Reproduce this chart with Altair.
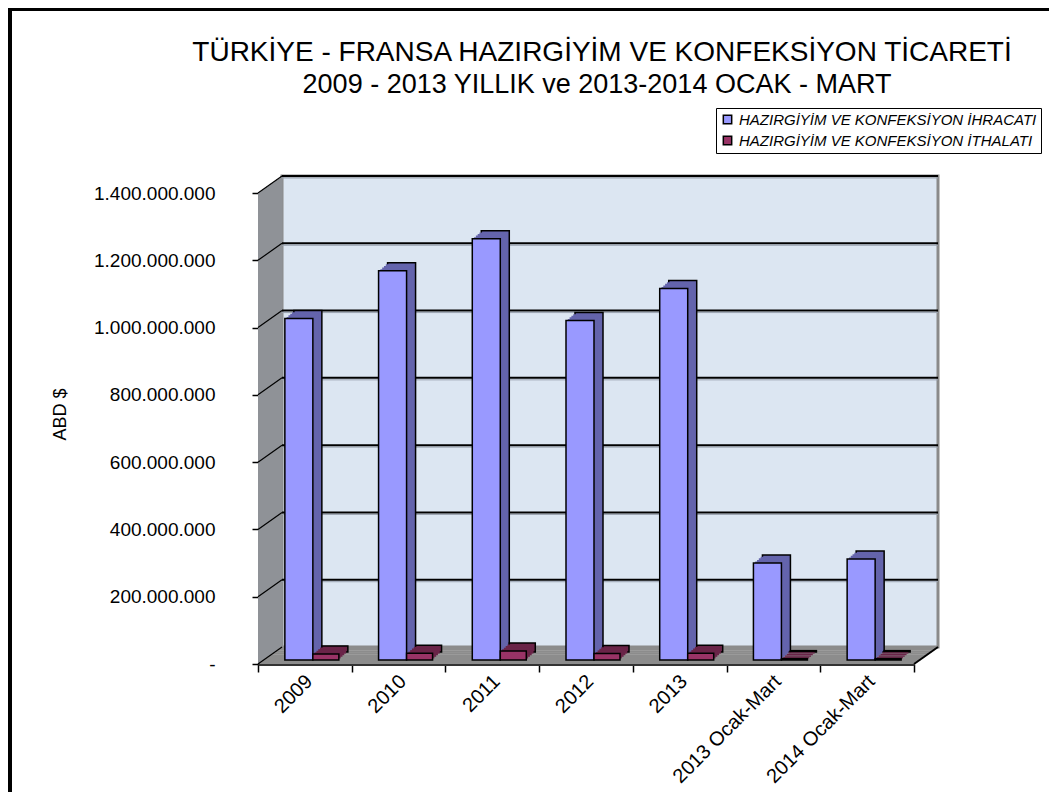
import altair as alt
import pandas as pd

# ---------------- data ----------------
categories = ["2009", "2010", "2011", "2012", "2013", "2013 Ocak-Mart", "2014 Ocak-Mart"]
export_values = [1015e6, 1157e6, 1252e6, 1009e6, 1104e6, 288e6, 300e6]
import_values = [18e6, 20e6, 27e6, 19e6, 20e6, 4e6, 4e6]
series_names = ["HAZIRGİYİM VE KONFEKSİYON İHRACATI", "HAZIRGİYİM VE KONFEKSİYON İTHALATI"]
series_colors = ["#9999ff", "#993366"]
side_colors = ["#6464ac", "#6a2448"]
y_ticks = [0, 200e6, 400e6, 600e6, 800e6, 1000e6, 1200e6, 1400e6]
title_lines = ["TÜRKİYE - FRANSA HAZIRGİYİM VE KONFEKSİYON TİCARETİ",
               "2009 - 2013 YILLIK ve 2013-2014 OCAK - MART"]
y_title = "ABD $"

# ---------------- layout ----------------
W, H = 656, 471
DX, DY = 24, 17      # wall depth
BX, BY = 9, 8        # bar depth
LIFT = 4
FONT = "Liberation Sans"

yscale = alt.Scale(domain=[0, 1.4e9], nice=False, zero=True)
xscale = alt.Scale(domain=categories, paddingInner=0, paddingOuter=0)

df_exp = pd.DataFrame({"category": categories, "value": export_values, "series": series_names[0]})
df_imp = pd.DataFrame({"category": categories, "value": import_values, "series": series_names[1]})
ticks_df = pd.DataFrame({"v": y_ticks})
one = pd.DataFrame({"d": [0]})

x_axis = alt.Axis(title=None, orient="bottom", labelAngle=315, labelAlign="right", labelBaseline="middle",
                  labelFontSize=20, labelColor="black", labelFont=FONT, tickBand="extent",
                  tickSize=8, tickColor="black", tickWidth=1.5, domainColor="#333333",
                  domainWidth=3, labelPadding=6, labelOffset=4, grid=False)
y_axis = alt.Axis(values=y_ticks, orient="left",
                  labelExpr="datum.value == 0 ? '-\u00a0\u00a0\u00a0' : replace(format(datum.value, ',d'), regexp(',', 'g'), '.')",
                  title=y_title, grid=False, domain=False, tickColor="black", tickSize=6,
                  tickWidth=1.5, labelPadding=37, labelFontSize=19, labelColor="black", labelFont=FONT,
                  titleFontSize=18, titleFontWeight="normal", titleColor="black", titleFont=FONT,
                  titleX=-198, titleY=221, titleAlign="center", titleBaseline="middle")


def yd(v):
    return alt.YDatum(v, scale=yscale, axis=y_axis, title=y_title)


def y2d(v):
    return alt.Y2Datum(v)


def yf(field):
    return alt.Y(field, scale=yscale, axis=y_axis, title=y_title)


def xf():
    return alt.X("category:N", scale=xscale, sort=categories, axis=x_axis, title=None)


layers = []

# outer frame
layers.append(alt.Chart(one).mark_rect(fillOpacity=0, stroke="black", strokeWidth=4).encode(
    x=alt.value(-248), x2=alt.value(W + 400), y=alt.value(-184), y2=alt.value(H + 400)))

# chart title
layers.append(alt.Chart(one).mark_text(text=title_lines[0], fontSize=28, font=FONT, color="black",
                                       fontWeight="normal", align="center", baseline="alphabetic").encode(
    x=alt.value(344), y=alt.value(-132)))
layers.append(alt.Chart(one).mark_text(text=title_lines[1], fontSize=27, font=FONT, color="black",
                                       fontWeight="normal", align="center", baseline="alphabetic").encode(
    x=alt.value(339), y=alt.value(-100)))

# back wall
layers.append(alt.Chart(one).mark_rect(fill="#dce6f2", stroke="#8a8a8a", strokeWidth=3,
                                       yOffset=-DY, y2Offset=-DY).encode(
    x=alt.value(DX), x2=alt.value(W + DX), y=yd(1.4e9), y2=y2d(0)))

# left side wall (strips)
n = 12
for k in range(n):
    x0 = DX * k / n
    x1 = DX * (k + 1) / n + 0.6
    off = -DY * (k + 0.5) / n
    layers.append(alt.Chart(one).mark_rect(fill="#8f9297", yOffset=off, y2Offset=off).encode(
        x=alt.value(x0), x2=alt.value(x1), y=yd(1.4e9), y2=y2d(0)))

# floor (strips)
m = 9
for j in range(m):
    d0 = DY * j / m
    d1 = DY * (j + 1) / m
    xo = DX * (j + 0.5) / m
    layers.append(alt.Chart(one).mark_rect(fill="#8c8c8c", yOffset=-d1 - 0.4, y2Offset=-d0).encode(
        x=alt.value(xo), x2=alt.value(W + xo), y=yd(0), y2=y2d(0)))

# gridlines on back wall
grid_src = alt.Chart(ticks_df).transform_filter("datum.v > 0")
layers.append(grid_src.mark_rule(color="#9aa3b0", strokeWidth=1, yOffset=-DY + 2).encode(
    y=yf("v:Q"), x=alt.value(DX), x2=alt.value(W + DX)))
layers.append(grid_src.mark_rule(color="black", strokeWidth=2, yOffset=-DY).encode(
    y=yf("v:Q"), x=alt.value(DX), x2=alt.value(W + DX)))

# diagonals on side wall
layers.append(alt.Chart(ticks_df).mark_rule(color="black", strokeWidth=1.2, y2Offset=-DY).encode(
    x=alt.value(0), x2=alt.value(DX), y=yf("v:Q"), y2="v:Q"))

# right floor edge
layers.append(alt.Chart(one).mark_rule(color="black", strokeWidth=2, y2Offset=-DY).encode(
    x=alt.value(W), x2=alt.value(W + DX), y=yd(0), y2=y2d(0)))

color_enc_scale = alt.Scale(domain=series_names, range=series_colors)

legend = alt.Legend(title=None, orient="none", legendX=458, legendY=-85, direction="vertical",
                    fillColor="white", strokeColor="black", padding=4, symbolType="square",
                    symbolSize=70, symbolStrokeColor="black", symbolStrokeWidth=1.5,
                    labelFontSize=15, labelFontStyle="italic", labelFont=FONT, labelLimit=400,
                    rowPadding=5, labelColor="black", labelOffset=4)


def bar_layers(df, size, cx, side):
    out = []
    for i, t in enumerate([1.0, 0.8, 0.6, 0.4, 0.2]):
        kw = dict(size=size, xOffset=cx + BX * t, yOffset=-LIFT - BY * t, y2Offset=-LIFT - BY * t, fill=side)
        if i == 0:
            kw.update(stroke="black", strokeWidth=1.5)
        out.append(alt.Chart(df).mark_bar(**kw).encode(
            x=xf(), y=yf("value:Q"), y2=alt.Y2Datum(0)))
    out.append(alt.Chart(df).mark_bar(size=size, xOffset=cx, yOffset=-LIFT, y2Offset=-LIFT,
                                      stroke="black", strokeWidth=1.5, opacity=1).encode(
        x=xf(), y=yf("value:Q"), y2=alt.Y2Datum(0),
        color=alt.Color("series:N", scale=color_enc_scale, legend=legend)))
    return out


layers += bar_layers(df_exp, 28, -6, side_colors[0])
layers += bar_layers(df_imp, 26, 21, side_colors[1])

chart = alt.layer(*layers).properties(
    width=W, height=H,
    autosize=alt.AutoSizeParams(type="none"),
    padding={"left": 250, "top": 185, "right": 135, "bottom": 128},
    background="white",
).configure(font=FONT).configure_view(strokeWidth=0)

chart.save("out.html", embed_options={"renderer": "svg", "actions": False})
